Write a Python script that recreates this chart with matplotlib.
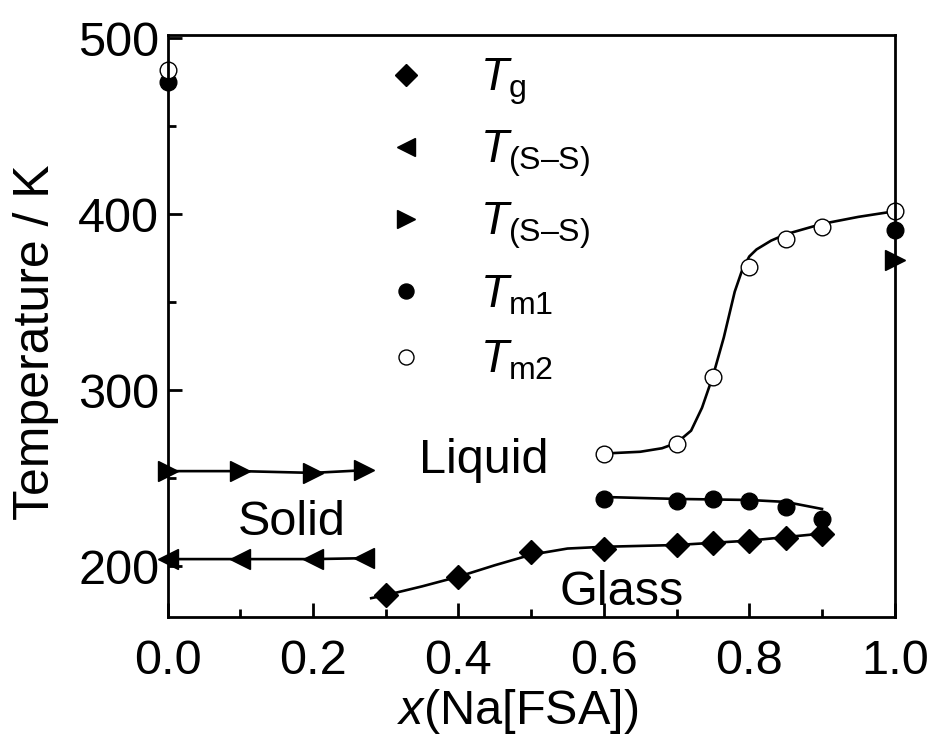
import matplotlib
matplotlib.use('Agg')
import matplotlib.pyplot as plt
from matplotlib.ticker import MultipleLocator

plt.rcParams['font.family'] = ['Liberation Sans', 'DejaVu Sans']
plt.rcParams['mathtext.fontset'] = 'custom'
plt.rcParams['mathtext.rm'] = 'Liberation Sans'
plt.rcParams['mathtext.it'] = 'Liberation Sans:italic'

# glass transition
x_tg = [0.3, 0.4, 0.5, 0.6, 0.7, 0.75, 0.8, 0.85, 0.9]
t_tg = [183.5, 193.7, 208, 210, 212, 213, 214.5, 216, 218]
# solid-solid transitions (cooling / heating)
x_ss = [0.0, 0.1, 0.2, 0.27]
t_ss_left = [204, 204, 204, 204.5]
t_ss_right = [254, 254, 253, 254.5]
x_ss_r1 = [1.0]
t_ss_r1 = [374]
# melting
x_tm1 = [0.0, 0.6, 0.7, 0.75, 0.8, 0.85, 0.9, 1.0]
t_tm1 = [475, 238, 237, 238, 237, 233.6, 226.8, 391]
x_tm2 = [0.0, 0.6, 0.7, 0.75, 0.8, 0.85, 0.9, 1.0]
t_tm2 = [482, 264, 269.5, 307.7, 370, 385.8, 392.6, 401.7]

# guide curves
x_glass_line = [0.28, 0.3, 0.35, 0.4, 0.45, 0.5, 0.55, 0.6, 0.7, 0.8, 0.9]
t_glass_line = [181.8, 183.5, 188.5, 194, 200.5, 206.5, 210, 211, 212, 214.5, 218.5]
x_tm1_line = [0.6, 0.7, 0.8, 0.85, 0.9]
t_tm1_line = [239.3, 238.2, 237.6, 236.5, 232.5]
x_tm2_line = [0.6, 0.65, 0.68, 0.7, 0.72, 0.735, 0.75, 0.765, 0.78, 0.79, 0.8, 0.81, 0.83, 0.85, 0.9, 0.95, 1.0]
t_tm2_line = [264, 265, 267, 270, 277, 290, 308, 330, 356, 368, 376, 380, 385, 388.6, 394.5, 398.5, 401.7]

fig = plt.figure(figsize=(9.31, 7.4), dpi=100)
ax = fig.add_axes([0.180, 0.166, 0.781, 0.787])

lw = 1.9
ax.plot(x_glass_line, t_glass_line, color='black', lw=lw)
ax.plot(x_tm1_line, t_tm1_line, color='black', lw=lw)
ax.plot(x_tm2_line, t_tm2_line, color='black', lw=lw)
ax.plot(x_ss, t_ss_left, color='black', lw=lw)
ax.plot(x_ss, t_ss_right, color='black', lw=lw)

ax.plot(x_tg, t_tg, 'D', color='black', ms=12, ls='none', clip_on=False, label=r'$T_{\rm g}$')
ax.plot(x_ss, t_ss_left, '<', color='black', ms=14, ls='none', clip_on=False, label=r'$T_{\rm (S–S)}$')
ax.plot(x_ss + x_ss_r1, t_ss_right + t_ss_r1, '>', color='black', ms=14, ls='none', clip_on=False,
        label=r'$T_{\rm (S–S)}$')
ax.plot(x_tm1, t_tm1, 'o', color='black', ms=12, ls='none', clip_on=False, label=r'$T_{\rm m1}$')
ax.plot(x_tm2, t_tm2, 'o', mfc='white', mec='black', mew=1, ms=12, ls='none', clip_on=False,
        label=r'$T_{\rm m2}$')

ax.set_xlim(0, 1.0)
ax.set_ylim(171, 502)
ax.xaxis.set_major_locator(MultipleLocator(0.2))
ax.xaxis.set_minor_locator(MultipleLocator(0.1))
ax.yaxis.set_major_locator(MultipleLocator(100))
ax.yaxis.set_minor_locator(MultipleLocator(50))
ax.tick_params(which='both', direction='in', labelsize=35, width=2)
ax.tick_params(which='major', length=10)
ax.tick_params(which='minor', length=6)
ax.tick_params(axis='x', which='major', pad=16)
ax.tick_params(axis='y', which='major', pad=6)
for s in ax.spines.values():
    s.set_linewidth(2)

ax.set_xlabel(r'$x$(Na[FSA])', fontsize=35, labelpad=2)
ax.set_ylabel('Temperature / K', fontsize=36, labelpad=14)
ax.xaxis.label.set_x(0.481)
ax.yaxis.label.set_y(0.472)

ax.text(0.435, 260, 'Liquid', fontsize=35, ha='center', va='center')
ax.text(0.171, 225, 'Solid', fontsize=35, ha='center', va='center')
ax.text(0.624, 185, 'Glass', fontsize=35, ha='center', va='center')

leg = ax.legend(loc='upper left', bbox_to_anchor=(0.297, 0.962), frameon=False, fontsize=33,
                markerscale=0.9, handlelength=1.0, handletextpad=1.1, labelspacing=0.47,
                borderpad=0, borderaxespad=0)

fig.savefig('out.png', dpi=100)
